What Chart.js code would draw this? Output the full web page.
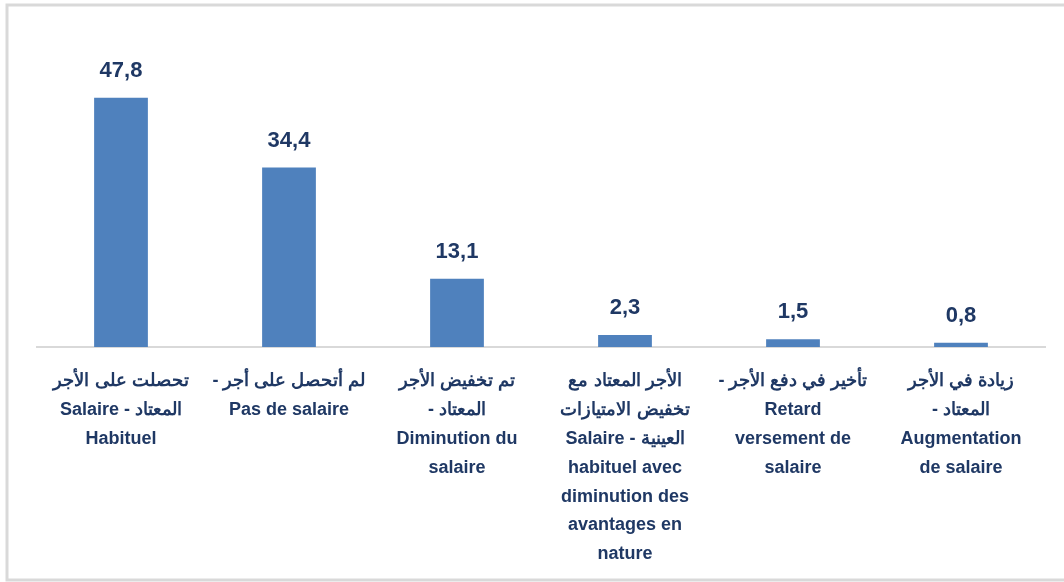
<!DOCTYPE html>
<html>
<head>
<meta charset="utf-8">
<script src="https://cdn.jsdelivr.net/npm/chart.js@4.4.1/dist/chart.umd.min.js"></script>
<style>
  html, body { margin: 0; padding: 0; background: #fff; }
  #wrap { width: 1064px; height: 582px; }
</style>
</head>
<body>
<div id="wrap"><canvas id="myChart" width="1064" height="582"></canvas></div>
<script>
// canvas lays lines out ltr, so strings are ordered to give the rtl look of the original
var labels = [
    ['تحصلت على الأجر', 'Salaire - المعتاد', 'Habituel'],
    ['- لم أتحصل على أجر', 'Pas de salaire'],
    ['تم تخفيض الأجر', '- المعتاد', 'Diminution du', 'salaire'],
    ['الأجر المعتاد مع', 'تخفيض الامتيازات', 'Salaire - العينية', 'habituel avec', 'diminution des', 'avantages en', 'nature'],
    ['- تأخير في دفع الأجر', 'Retard', 'versement de', 'salaire'],
    ['زيادة في الأجر', '- المعتاد', 'Augmentation', 'de salaire']
];
var values = [47.8, 34.4, 13.1, 2.3, 1.5, 0.8];

var navy = '#1f3864';

// frame around the chart
var framePlugin = {
    id: 'frame',
    beforeDraw: function (chart) {
        var c = chart.ctx;
        c.save();
        c.strokeStyle = '#d9d9d9';
        c.lineWidth = 3;
        c.strokeRect(7, 5, 1070, 575);
        c.restore();
    }
};

// value labels above the bars
var valuePlugin = {
    id: 'values',
    afterDatasetsDraw: function (chart) {
        var c = chart.ctx;
        var meta = chart.getDatasetMeta(0);
        c.save();
        c.font = 'bold 22px "Liberation Sans", Arial, sans-serif';
        c.fillStyle = navy;
        c.textAlign = 'center';
        c.textBaseline = 'middle';
        meta.data.forEach(function (bar, i) {
            var txt = values[i].toFixed(1).replace('.', ',');
            c.fillText(txt, bar.x, bar.y - 27);
        });
        c.restore();
    }
};

var ctx = document.getElementById('myChart');
var myChart = new Chart(ctx, {
    type: 'bar',
    data: {
        labels: labels,
        datasets: [{
            label: 'Valeur',
            data: values,
            backgroundColor: '#4f81bd',
            borderWidth: 0,
            categoryPercentage: 1,
            barPercentage: 0.32
        }]
    },
    options: {
        responsive: false,
        animation: false,
        layout: {
            padding: { left: 37, right: 19, top: 34, bottom: 0 }
        },
        scales: {
            x: {
                grid: { display: false },
                border: { display: true, color: '#d9d9d9', width: 2 },
                ticks: {
                    color: navy,
                    font: { family: '"Liberation Sans", Arial, sans-serif', size: 18, weight: 'bold', lineHeight: 1.6 },
                    maxRotation: 0,
                    autoSkip: false,
                    padding: 12
                },
                afterFit: function (scale) { scale.height = 235; }
            },
            y: {
                display: false,
                min: 0,
                max: 60
            }
        },
        plugins: {
            legend: { display: false },
            tooltip: { enabled: false }
        }
    },
    plugins: [framePlugin, valuePlugin]
});
</script>
</body>
</html>
